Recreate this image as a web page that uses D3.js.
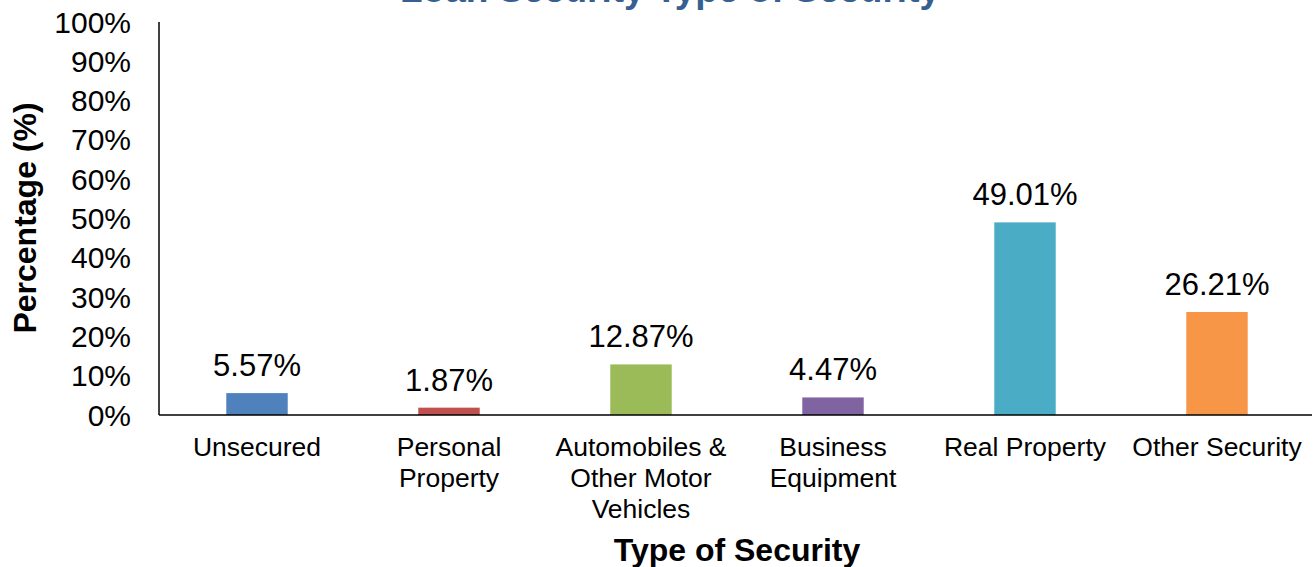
<!DOCTYPE html>
<html>
<head>
<meta charset="utf-8">
<script src="https://cdn.jsdelivr.net/npm/d3@7"></script>
<style>
    body { margin: 0; background: #fff; }
    svg { font-family: Arial, "Liberation Sans", sans-serif; }
</style>
</head>
<body>
<div id="chart"></div>
<script>
var categories = [
    ["Unsecured"],
    ["Personal", "Property"],
    ["Automobiles &", "Other Motor", "Vehicles"],
    ["Business", "Equipment"],
    ["Real Property"],
    ["Other Security"]
];
var values = [5.57, 1.87, 12.87, 4.47, 49.01, 26.21];
var colors = ["#4F81BD", "#C0504D", "#9BBB59", "#8064A2", "#4BACC6", "#F79646"];
var yTicks = [0, 10, 20, 30, 40, 50, 60, 70, 80, 90, 100];

var width = 1314, height = 567;
var margin = {top: 22, right: 1, bottom: 152, left: 159};

var svg = d3.select("#chart").append("svg")
    .attr("width", width)
    .attr("height", height);

// title, mostly cut off at the top of the picture
svg.append("text")
    .attr("x", 670)
    .attr("y", 2)
    .attr("text-anchor", "middle")
    .style("font-size", "37px")
    .style("font-weight", "bold")
    .style("fill", "#376092")
    .text("Loan Security Type of Security");

var x = d3.scaleBand()
    .domain(d3.range(values.length))
    .range([margin.left + 2, width - margin.right])
    .paddingInner(0.68)
    .paddingOuter(0.34);

var y = d3.scaleLinear()
    .domain([0, 100])
    .range([height - margin.bottom, margin.top]);

var g = svg.append("g");

// y tick labels
g.selectAll(".ytick")
    .data(yTicks)
    .enter().append("text")
    .attr("class", "ytick")
    .attr("x", 131)
    .attr("y", function (d) { return y(d); })
    .attr("dy", "0.35em")
    .attr("text-anchor", "end")
    .style("font-size", "30px")
    .style("fill", "#000")
    .text(function (d) { return d + "%"; });

// bars
g.selectAll(".bar")
    .data(values)
    .enter().append("rect")
    .attr("class", "bar")
    .attr("x", function (d, i) { return x(i); })
    .attr("width", x.bandwidth())
    .attr("y", function (d) { return y(d); })
    .attr("height", function (d) { return y(0) - y(d); })
    .style("fill", function (d, i) { return colors[i]; });

// axis lines
g.append("line")
    .attr("x1", margin.left).attr("x2", margin.left)
    .attr("y1", y(100)).attr("y2", y(0))
    .style("stroke", "#000").style("stroke-width", 1.5);
g.append("line")
    .attr("x1", margin.left).attr("x2", width - 2)
    .attr("y1", y(0)).attr("y2", y(0))
    .style("stroke", "#000").style("stroke-width", 1.5);

// data labels
g.selectAll(".dlabel")
    .data(values)
    .enter().append("text")
    .attr("class", "dlabel")
    .attr("x", function (d, i) { return x(i) + x.bandwidth() / 2; })
    .attr("y", function (d) { return y(d) - 17; })
    .attr("text-anchor", "middle")
    .style("font-size", "31px")
    .style("fill", "#000")
    .text(function (d) { return d.toFixed(2) + "%"; });

// category labels
var cat = g.selectAll(".cat")
    .data(categories)
    .enter().append("text")
    .attr("class", "cat")
    .attr("text-anchor", "middle")
    .style("font-size", "26.5px")
    .style("fill", "#000");

cat.selectAll("tspan")
    .data(function (d, i) { return d.map(function (t) { return {t: t, i: i}; }); })
    .enter().append("tspan")
    .attr("x", function (d) { return x(d.i) + x.bandwidth() / 2; })
    .attr("y", function (d, j) { return 456 + j * 31; })
    .text(function (d) { return d.t; });

// axis titles
svg.append("text")
    .attr("x", 737)
    .attr("y", 561)
    .attr("text-anchor", "middle")
    .style("font-size", "32px")
    .style("font-weight", "bold")
    .text("Type of Security");

svg.append("text")
    .attr("transform", "translate(36,218) rotate(-90)")
    .attr("text-anchor", "middle")
    .style("font-size", "32px")
    .style("font-weight", "bold")
    .text("Percentage (%)");
</script>
</body>
</html>
